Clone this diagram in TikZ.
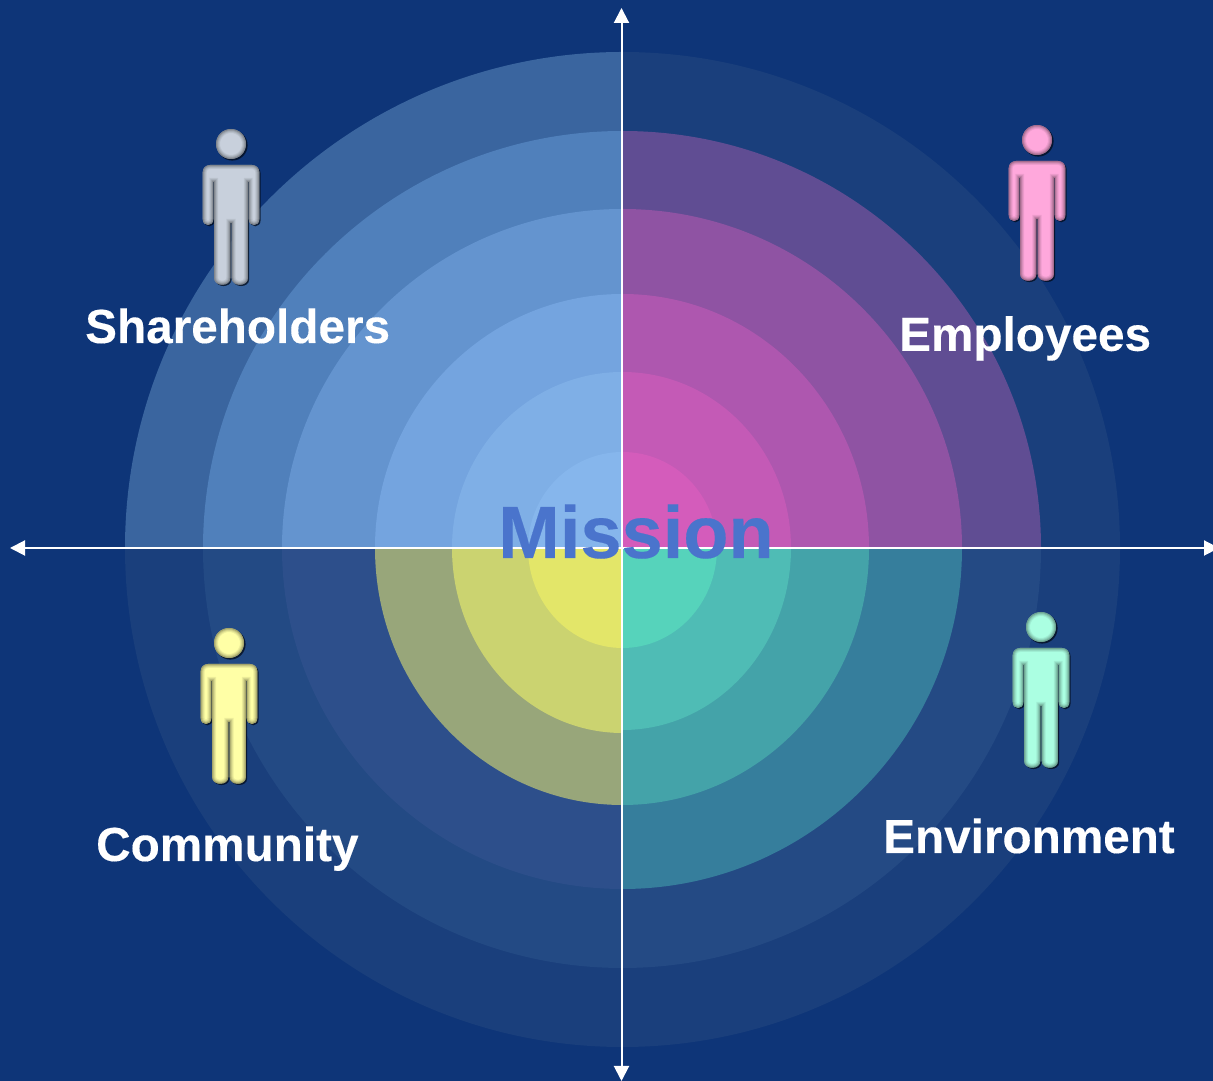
\documentclass[tikz,border=0pt]{standalone}
\usepackage{fontspec}
\setmainfont{Liberation Sans}[BoldFeatures={FakeBold=0.25}]
\usetikzlibrary{arrows.meta}
\definecolor{bgc}{HTML}{0E3578}
% top-left
\definecolor{aA}{HTML}{3A659F}\definecolor{aB}{HTML}{5080BB}\definecolor{aC}{HTML}{6494CF}
\definecolor{aD}{HTML}{74A4DF}\definecolor{aE}{HTML}{7FAFE6}\definecolor{aF}{HTML}{86B6EC}
% top-right
\definecolor{bA}{HTML}{1A3F7C}\definecolor{bB}{HTML}{604D93}\definecolor{bC}{HTML}{8F53A3}
\definecolor{bD}{HTML}{AE57AF}\definecolor{bE}{HTML}{C45AB6}\definecolor{bF}{HTML}{D45CBB}
% bottom-left
\definecolor{cA}{HTML}{1A3F7C}\definecolor{cB}{HTML}{234A84}\definecolor{cC}{HTML}{2D4F8B}
\definecolor{cD}{HTML}{98A67A}\definecolor{cE}{HTML}{CBD370}\definecolor{cF}{HTML}{E3E669}
% bottom-right
\definecolor{dA}{HTML}{1A3F7C}\definecolor{dB}{HTML}{244A84}\definecolor{dC}{HTML}{367E9C}
\definecolor{dD}{HTML}{44A3A9}\definecolor{dE}{HTML}{4FBCB5}\definecolor{dF}{HTML}{56D3BB}
\definecolor{missionc}{HTML}{4A74CC}
\definecolor{pGrey}{HTML}{C8D0DC}\definecolor{pPink}{HTML}{FFA8DC}
\definecolor{pYellow}{HTML}{FFFFA6}\definecolor{pMint}{HTML}{ABFFE2}
\tikzset{
  x=1pt,y=1pt,
  axis/.style={white,line width=2pt,{Triangle[length=15pt,width=15pt]}-{Triangle[length=15pt,width=15pt]}},
  label/.style={anchor=base west,inner sep=0pt,text=white,font=\fontsize{47.7}{50}\selectfont\bfseries},
  missiontext/.style={anchor=base west,inner sep=0pt,text=missionc,font=\fontsize{74}{76}\selectfont\bfseries},
}
% quadrant: start angle, rx, ry, colour
\newcommand{\Qd}[4]{\fill[#4] (622.5,533) -- ++(#1:#2 and #3) arc[start angle=#1,delta angle=90,x radius=#2,y radius=#3] -- cycle;}
\def\Bpath{(-28.3,-7) .. controls (-28.3,-3) and (-25,0) .. (-21,0) -- (21,0)
  .. controls (25,0) and (28.3,-3) .. (28.3,-7) -- (28.3,-54)
  .. controls (28.3,-62) and (17.7,-62) .. (17.7,-54) -- (17.7,-17) -- (16.9,-17) -- (16.9,-113)
  .. controls (16.9,-122) and (0.7,-122) .. (0.7,-113) -- (0.7,-58) -- (-0.7,-58) -- (-0.7,-113)
  .. controls (-0.7,-122) and (-16.9,-122) .. (-16.9,-113) -- (-16.9,-17) -- (-17.7,-17) -- (-17.7,-54)
  .. controls (-17.7,-62) and (-28.3,-62) .. (-28.3,-54) -- cycle}
\newcommand{\Person}[3]{% cx, body-top y (tikz), colour
  \begin{scope}[shift={(#1,#2)}]
    \fill[black!80!bgc,opacity=.75,xshift=1.3pt,yshift=-1.3pt] (0,21) circle[radius=15.3];
    \fill[black!80!bgc,opacity=.75,xshift=1.3pt,yshift=-1.3pt] \Bpath;
    \fill[#3] (0,21) circle[radius=15];
    \fill[#3] \Bpath;
    \begin{scope}
      \clip (0,21) circle[radius=15];
      \foreach \w/\o in {8/.1,6/.12,4/.18,2/.28} \draw[black!65!#3,opacity=\o,line width=\w pt] (0,21) circle[radius=15];
    \end{scope}
    \begin{scope}
      \clip \Bpath;
      \foreach \w/\o in {8/.1,6/.12,4/.18,2/.28} \draw[black!65!#3,opacity=\o,line width=\w pt] \Bpath;
    \end{scope}
  \end{scope}}
\begin{document}
\begin{tikzpicture}
\useasboundingbox (0,0) rectangle (1213,1081);
\clip (0,0) rectangle (1213,1081);
\fill[bgc] (0,0) rectangle (1213,1081);
% top-left quadrant (90 to 180)
\Qd{90}{497.5}{496}{aA}\Qd{90}{419.5}{417}{aB}\Qd{90}{340.5}{339}{aC}\Qd{90}{247.5}{254}{aD}\Qd{90}{170.5}{176}{aE}\Qd{90}{94.5}{96}{aF}
% top-right (0 to 90)
\Qd{0}{497.5}{496}{bA}\Qd{0}{418.5}{417}{bB}\Qd{0}{339.5}{339}{bC}\Qd{0}{246.5}{254}{bD}\Qd{0}{168.5}{176}{bE}\Qd{0}{94.5}{96}{bF}
% bottom-left (180 to 270)
\Qd{180}{497.5}{499}{cA}\Qd{180}{419.5}{420}{cB}\Qd{180}{340.5}{341}{cC}\Qd{180}{247.5}{257}{cD}\Qd{180}{170.5}{185}{cE}\Qd{180}{94.5}{100}{cF}
% bottom-right (270 to 360)
\Qd{270}{497.5}{499}{dA}\Qd{270}{418.5}{420}{dB}\Qd{270}{339.5}{341}{dC}\Qd{270}{246.5}{257}{dD}\Qd{270}{168.5}{182}{dE}\Qd{270}{94.5}{100}{dF}
% axes
\coordinate (west) at (10,533);
\coordinate (east) at (1219,533);
\coordinate (north) at (621.5,1073);
\coordinate (south) at (621.5,0);
\draw[axis] (west) -- (east);
\draw[axis] (south) -- (north);
% people
\Person{231}{916}{pGrey}
\Person{1037}{920}{pPink}
\Person{229}{417}{pYellow}
\Person{1041}{433}{pMint}
% labels
\node[label] (share) at (85,738) {Shareholders};
\node[label] (emp) at (899,730.2) {Employees};
\node[label] (comm) at (96,220) {Community};
\node[label] (env) at (883,228) {Environment};
\node[missiontext] (mission) at (498,523) {Mission};
\end{tikzpicture}
\end{document}
